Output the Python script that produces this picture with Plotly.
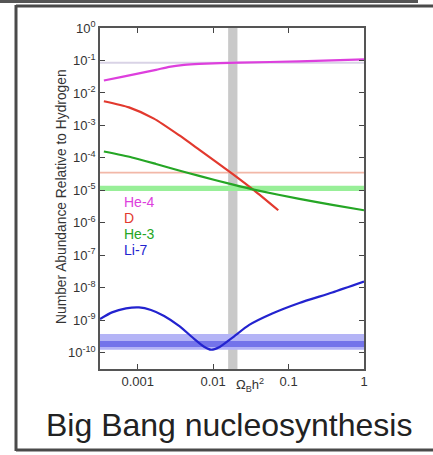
import plotly.graph_objects as go

# Baryon density axis (Omega_B h^2) and predicted abundances
he4_x = [3.56e-4, 6.19e-4, 1.04e-3, 1.75e-3, 2.61e-3, 4.12e-3, 6.52e-3, 0.0221, 0.139, 1.0]
he4_y = [0.0242, 0.0314, 0.0402, 0.0515, 0.0637, 0.0733, 0.0787, 0.0857, 0.0938, 0.108]

d_x = [3.56e-4, 7.66e-4, 1.64e-3, 3.53e-3, 6.52e-3, 0.01786, 0.035, 0.073]
d_y = [5.56e-3, 3.6e-3, 1.62e-3, 5.0e-4, 1.8e-4, 3.3e-5, 1.0e-5, 2.44e-6]

he3_x = [3.56e-4, 8.39e-4, 1.75e-3, 3.53e-3, 6.52e-3, 0.01786, 0.0384, 0.139, 0.38, 1.0]
he3_y = [1.57e-4, 1.03e-4, 6.5e-5, 4.1e-5, 2.79e-5, 1.53e-5, 1.0e-5, 5.48e-6, 3.59e-6, 2.44e-6]

li7_x = [3.16e-4, 4.56e-4, 7.0e-4, 1.04e-3, 1.5e-3, 2.24e-3, 3.53e-3, 5.6e-3, 7.59e-3,
         9.4e-3, 0.012, 0.01786, 0.0301, 0.0608, 0.139, 0.38, 1.0]
li7_y = [1.10e-9, 1.75e-9, 2.32e-9, 2.49e-9, 2.08e-9, 1.36e-9, 6.73e-10, 2.69e-10, 1.53e-10,
         1.24e-10, 1.48e-10, 2.88e-10, 7.2e-10, 1.62e-9, 3.42e-9, 7.2e-9, 1.56e-8]

# Observed values / bands
he4_obs = 0.085
d_obs = 3.5e-5
he3_band = [9.5e-6, 1.38e-5]
li7_band_wide = [1.23e-10, 3.8e-10]
li7_band_core = [1.5e-10, 2.3e-10]
omega_band = [0.0158, 0.021]

# Axis ticks
x_ticks = [0.001, 0.01, 0.1, 1]
x_tick_text = ["0.001", "0.01", "0.1", "1"]
y_exps = list(range(0, -11, -1))

species = ["He-4", "D", "He-3", "Li-7"]
colors = ["#dd3fdd", "#e2392e", "#25a625", "#2323cf"]

# Plot-area geometry in pixels (used to place the frame around it)
W, H = 433, 455
L, R, T, B = 100, 364, 28, 369


def px(xp):
    return (xp - L) / (R - L)


def py(yp):
    return (B - yp) / (B - T)


fig = go.Figure()

for xs, ys, c in [(he4_x, he4_y, colors[0]), (d_x, d_y, colors[1]),
                  (he3_x, he3_y, colors[2]), (li7_x, li7_y, colors[3])]:
    fig.add_trace(go.Scatter(x=xs, y=ys, mode="lines",
                             line=dict(color=c, width=2.2, shape="spline", smoothing=0.6),
                             showlegend=False, hoverinfo="skip"))

shapes = [
    dict(type="rect", xref="x", yref="paper", x0=omega_band[0], x1=omega_band[1],
         y0=0, y1=1, fillcolor="#c9c9c9", line_width=0, layer="below"),
    dict(type="line", xref="paper", yref="y", x0=0, x1=1, y0=he4_obs, y1=he4_obs,
         line=dict(color="#d9d3e6", width=1.8), layer="below"),
    dict(type="line", xref="paper", yref="y", x0=0, x1=1, y0=d_obs, y1=d_obs,
         line=dict(color="#f2b8a8", width=1.8), layer="below"),
    dict(type="rect", xref="paper", yref="y", x0=0, x1=1, y0=he3_band[0], y1=he3_band[1],
         fillcolor="#98ef98", line_width=0, layer="below"),
    dict(type="rect", xref="paper", yref="y", x0=0, x1=1, y0=li7_band_wide[0], y1=li7_band_wide[1],
         fillcolor="#b4b4f6", line_width=0, layer="below"),
    dict(type="rect", xref="paper", yref="y", x0=0, x1=1, y0=li7_band_core[0], y1=li7_band_core[1],
         fillcolor="#7474ea", line_width=0, layer="below"),
    # surrounding frame
    dict(type="line", xref="paper", yref="paper", x0=px(0), x1=px(418), y0=py(1.5), y1=py(1.5),
         line=dict(color="#555555", width=3)),
    dict(type="line", xref="paper", yref="paper", x0=px(16), x1=px(16), y0=py(5), y1=py(451),
         line=dict(color="#4a4a4a", width=3)),
    dict(type="line", xref="paper", yref="paper", x0=px(16), x1=px(440), y0=py(6), y1=py(6),
         line=dict(color="#4a4a4a", width=3)),
    dict(type="line", xref="paper", yref="paper", x0=px(16), x1=px(440), y0=py(450), y1=py(450),
         line=dict(color="#4a4a4a", width=3)),
]

annotations = []
for i, (name, c) in enumerate(zip(species, colors)):
    annotations.append(dict(xref="paper", yref="paper", x=px(122), y=py(202 + 16 * i),
                            text=name, showarrow=False, xanchor="left", yanchor="middle",
                            font=dict(size=14, color=c, family="Liberation Sans")))
annotations += [
    dict(xref="paper", yref="paper", x=px(250), y=py(385), text="Ω<sub>B</sub>h<sup>2</sup>",
         showarrow=False, xanchor="center", yanchor="middle",
         font=dict(size=13, color="#333333", family="Liberation Sans")),
    dict(xref="paper", yref="paper", x=px(61), y=py(197),
         text="Number Abundance Relative to Hydrogen", textangle=-90,
         showarrow=False, xanchor="center", yanchor="middle",
         font=dict(size=13.8, color="#333333", family="Liberation Sans")),
    dict(xref="paper", yref="paper", x=px(229), y=py(425), text="Big Bang nucleosynthesis",
         showarrow=False, xanchor="center", yanchor="middle",
         font=dict(size=32, color="#222222", family="Liberation Sans")),
]

fig.update_layout(
    width=W, height=H,
    margin=dict(l=L, r=W - R, t=T, b=H - B),
    paper_bgcolor="white", plot_bgcolor="white",
    shapes=shapes, annotations=annotations,
    showlegend=False,
    xaxis=dict(type="log", range=[-3.5, 0], tickvals=x_ticks, ticktext=x_tick_text,
               ticks="inside", ticklen=5, tickwidth=1.3, tickcolor="#444444",
               showline=True, linecolor="#555555", linewidth=1.5, mirror="ticks",
               showgrid=False, zeroline=False,
               tickfont=dict(size=13, color="#333333", family="Liberation Sans")),
    yaxis=dict(type="log", range=[-10.5, 0], tickvals=[10.0 ** e for e in y_exps],
               ticktext=["10<sup>%d</sup>" % e for e in y_exps],
               ticks="inside", ticklen=5, tickwidth=1.3, tickcolor="#444444",
               showline=True, linecolor="#555555", linewidth=1.5, mirror="ticks",
               showgrid=False, zeroline=False,
               tickfont=dict(size=13, color="#333333", family="Liberation Sans")),
)

fig.write_html("out.html")
